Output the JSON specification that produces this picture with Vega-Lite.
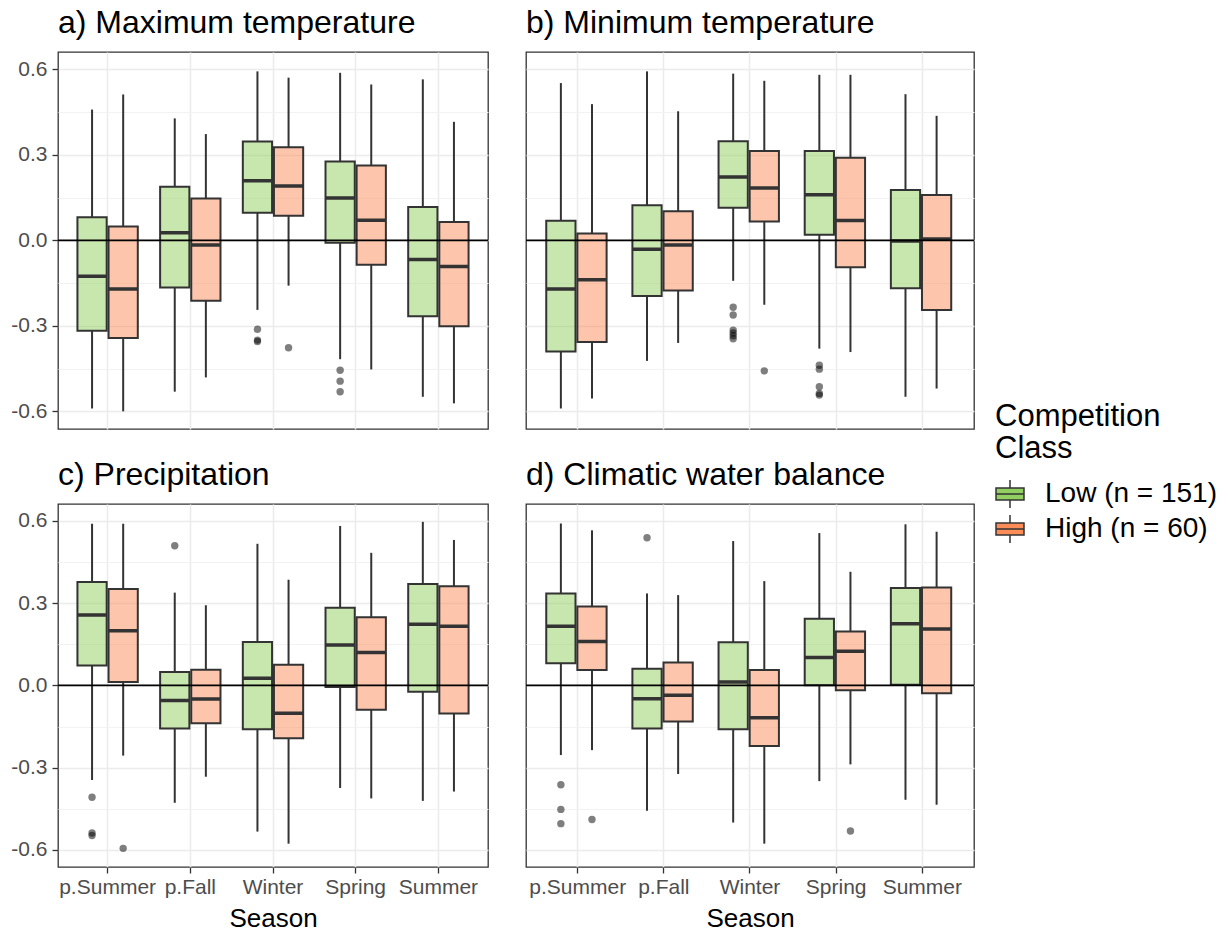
{
  "$schema": "https://vega.github.io/schema/vega-lite/v6.json",
  "padding": {"left": 10, "top": 6, "right": 5, "bottom": 0},
  "background": "white",
  "datasets": {
    "boxes": [
      {"p":"a","s":"p.Summer","c":"Low (n = 151)","lo":-0.59,"q1":-0.317,"md":-0.126,"q3":0.081,"hi":0.459},
      {"p":"a","s":"p.Summer","c":"High (n = 60)","lo":-0.60,"q1":-0.343,"md":-0.171,"q3":0.049,"hi":0.512},
      {"p":"a","s":"p.Fall","c":"Low (n = 151)","lo":-0.531,"q1":-0.165,"md":0.027,"q3":0.188,"hi":0.428},
      {"p":"a","s":"p.Fall","c":"High (n = 60)","lo":-0.481,"q1":-0.212,"md":-0.016,"q3":0.147,"hi":0.373},
      {"p":"a","s":"Winter","c":"Low (n = 151)","lo":-0.244,"q1":0.097,"md":0.209,"q3":0.347,"hi":0.593},
      {"p":"a","s":"Winter","c":"High (n = 60)","lo":-0.159,"q1":0.086,"md":0.191,"q3":0.327,"hi":0.571},
      {"p":"a","s":"Spring","c":"Low (n = 151)","lo":-0.417,"q1":-0.008,"md":0.149,"q3":0.277,"hi":0.588},
      {"p":"a","s":"Spring","c":"High (n = 60)","lo":-0.453,"q1":-0.086,"md":0.071,"q3":0.263,"hi":0.547},
      {"p":"a","s":"Summer","c":"Low (n = 151)","lo":-0.549,"q1":-0.266,"md":-0.067,"q3":0.117,"hi":0.565},
      {"p":"a","s":"Summer","c":"High (n = 60)","lo":-0.572,"q1":-0.301,"md":-0.092,"q3":0.064,"hi":0.416},
      {"p":"b","s":"p.Summer","c":"Low (n = 151)","lo":-0.59,"q1":-0.390,"md":-0.171,"q3":0.069,"hi":0.552},
      {"p":"b","s":"p.Summer","c":"High (n = 60)","lo":-0.555,"q1":-0.357,"md":-0.138,"q3":0.024,"hi":0.478},
      {"p":"b","s":"p.Fall","c":"Low (n = 151)","lo":-0.423,"q1":-0.195,"md":-0.031,"q3":0.123,"hi":0.593},
      {"p":"b","s":"p.Fall","c":"High (n = 60)","lo":-0.360,"q1":-0.176,"md":-0.016,"q3":0.102,"hi":0.453},
      {"p":"b","s":"Winter","c":"Low (n = 151)","lo":-0.142,"q1":0.114,"md":0.222,"q3":0.348,"hi":0.585},
      {"p":"b","s":"Winter","c":"High (n = 60)","lo":-0.226,"q1":0.066,"md":0.184,"q3":0.314,"hi":0.560},
      {"p":"b","s":"Spring","c":"Low (n = 151)","lo":-0.380,"q1":0.020,"md":0.160,"q3":0.314,"hi":0.581},
      {"p":"b","s":"Spring","c":"High (n = 60)","lo":-0.392,"q1":-0.094,"md":0.070,"q3":0.290,"hi":0.581},
      {"p":"b","s":"Summer","c":"Low (n = 151)","lo":-0.549,"q1":-0.168,"md":-0.002,"q3":0.177,"hi":0.513},
      {"p":"b","s":"Summer","c":"High (n = 60)","lo":-0.520,"q1":-0.244,"md":0.005,"q3":0.159,"hi":0.437},
      {"p":"c","s":"p.Summer","c":"Low (n = 151)","lo":-0.345,"q1":0.072,"md":0.256,"q3":0.377,"hi":0.589},
      {"p":"c","s":"p.Summer","c":"High (n = 60)","lo":-0.256,"q1":0.012,"md":0.199,"q3":0.351,"hi":0.589},
      {"p":"c","s":"p.Fall","c":"Low (n = 151)","lo":-0.428,"q1":-0.157,"md":-0.055,"q3":0.049,"hi":0.338},
      {"p":"c","s":"p.Fall","c":"High (n = 60)","lo":-0.333,"q1":-0.138,"md":-0.050,"q3":0.057,"hi":0.292},
      {"p":"c","s":"Winter","c":"Low (n = 151)","lo":-0.533,"q1":-0.160,"md":0.026,"q3":0.158,"hi":0.516},
      {"p":"c","s":"Winter","c":"High (n = 60)","lo":-0.577,"q1":-0.193,"md":-0.102,"q3":0.075,"hi":0.385},
      {"p":"c","s":"Spring","c":"Low (n = 151)","lo":-0.374,"q1":-0.006,"md":0.147,"q3":0.283,"hi":0.581},
      {"p":"c","s":"Spring","c":"High (n = 60)","lo":-0.412,"q1":-0.089,"md":0.120,"q3":0.248,"hi":0.483},
      {"p":"c","s":"Summer","c":"Low (n = 151)","lo":-0.421,"q1":-0.023,"md":0.223,"q3":0.369,"hi":0.596},
      {"p":"c","s":"Summer","c":"High (n = 60)","lo":-0.387,"q1":-0.103,"md":0.215,"q3":0.361,"hi":0.530},
      {"p":"d","s":"p.Summer","c":"Low (n = 151)","lo":-0.254,"q1":0.081,"md":0.215,"q3":0.335,"hi":0.590},
      {"p":"d","s":"p.Summer","c":"High (n = 60)","lo":-0.236,"q1":0.056,"md":0.160,"q3":0.287,"hi":0.565},
      {"p":"d","s":"p.Fall","c":"Low (n = 151)","lo":-0.457,"q1":-0.157,"md":-0.049,"q3":0.061,"hi":0.335},
      {"p":"d","s":"p.Fall","c":"High (n = 60)","lo":-0.323,"q1":-0.132,"md":-0.036,"q3":0.083,"hi":0.329},
      {"p":"d","s":"Winter","c":"Low (n = 151)","lo":-0.500,"q1":-0.160,"md":0.012,"q3":0.157,"hi":0.526},
      {"p":"d","s":"Winter","c":"High (n = 60)","lo":-0.577,"q1":-0.221,"md":-0.118,"q3":0.056,"hi":0.380},
      {"p":"d","s":"Spring","c":"Low (n = 151)","lo":-0.349,"q1":0.000,"md":0.102,"q3":0.243,"hi":0.555},
      {"p":"d","s":"Spring","c":"High (n = 60)","lo":-0.288,"q1":-0.018,"md":0.124,"q3":0.196,"hi":0.414},
      {"p":"d","s":"Summer","c":"Low (n = 151)","lo":-0.417,"q1":0.002,"md":0.225,"q3":0.355,"hi":0.587},
      {"p":"d","s":"Summer","c":"High (n = 60)","lo":-0.435,"q1":-0.029,"md":0.205,"q3":0.357,"hi":0.560}
    ],
    "outliers": [
      {"p":"a","s":"Winter","c":"Low (n = 151)","v":-0.312},
      {"p":"a","s":"Winter","c":"Low (n = 151)","v":-0.350},
      {"p":"a","s":"Winter","c":"Low (n = 151)","v":-0.355},
      {"p":"a","s":"Winter","c":"High (n = 60)","v":-0.377},
      {"p":"a","s":"Spring","c":"Low (n = 151)","v":-0.456},
      {"p":"a","s":"Spring","c":"Low (n = 151)","v":-0.494},
      {"p":"a","s":"Spring","c":"Low (n = 151)","v":-0.531},
      {"p":"b","s":"Winter","c":"Low (n = 151)","v":-0.235},
      {"p":"b","s":"Winter","c":"Low (n = 151)","v":-0.262},
      {"p":"b","s":"Winter","c":"Low (n = 151)","v":-0.315},
      {"p":"b","s":"Winter","c":"Low (n = 151)","v":-0.325},
      {"p":"b","s":"Winter","c":"Low (n = 151)","v":-0.335},
      {"p":"b","s":"Winter","c":"Low (n = 151)","v":-0.345},
      {"p":"b","s":"Winter","c":"High (n = 60)","v":-0.458},
      {"p":"b","s":"Spring","c":"Low (n = 151)","v":-0.438},
      {"p":"b","s":"Spring","c":"Low (n = 151)","v":-0.452},
      {"p":"b","s":"Spring","c":"Low (n = 151)","v":-0.514},
      {"p":"b","s":"Spring","c":"Low (n = 151)","v":-0.537},
      {"p":"b","s":"Spring","c":"Low (n = 151)","v":-0.543},
      {"p":"c","s":"p.Summer","c":"Low (n = 151)","v":-0.408},
      {"p":"c","s":"p.Summer","c":"Low (n = 151)","v":-0.538},
      {"p":"c","s":"p.Summer","c":"Low (n = 151)","v":-0.547},
      {"p":"c","s":"p.Summer","c":"High (n = 60)","v":-0.594},
      {"p":"c","s":"p.Fall","c":"Low (n = 151)","v":0.509},
      {"p":"d","s":"p.Summer","c":"Low (n = 151)","v":-0.362},
      {"p":"d","s":"p.Summer","c":"Low (n = 151)","v":-0.452},
      {"p":"d","s":"p.Summer","c":"Low (n = 151)","v":-0.504},
      {"p":"d","s":"p.Summer","c":"High (n = 60)","v":-0.489},
      {"p":"d","s":"p.Fall","c":"Low (n = 151)","v":0.538},
      {"p":"d","s":"Spring","c":"High (n = 60)","v":-0.531}
    ]
  },
  "spacing": 28,
  "vconcat": [
    {
      "spacing": 34,
      "hconcat": [
        {
          "width": 430, "height": 377,
          "title": {"text": "a) Maximum temperature"},
          "resolve": {"axis": {"y": "independent"}},
          "layer": [
            {
              "data": {"name": "boxes"},
              "transform": [{"filter": "datum.p == 'a'"}],
              "encoding": {
                "x": {"field": "s", "type": "nominal", "sort": ["p.Summer","p.Fall","Winter","Spring","Summer"], "scale": {"paddingInner": 0.27, "paddingOuter": 0.235}, "axis": {"title": null, "labels": false, "ticks": false, "grid": true, "bandPosition": 0.5}},
                "xOffset": {"field": "c", "type": "nominal", "sort": ["Low (n = 151)","High (n = 60)"], "scale": {"paddingInner": 0.06}}
              },
              "layer": [
                {"mark": {"type": "rule", "stroke": "#333333", "strokeWidth": 2},
                 "encoding": {"y": {"field": "lo", "type": "quantitative", "scale": {"domain": [-0.662, 0.661], "nice": false, "zero": false}, "axis": {"values": [-0.6,-0.3,0,0.3,0.6], "labelExpr": "datum.value < 0 ? '-' + format(-datum.value, '.1f') : format(datum.value, '.1f')", "title": null, "grid": true, "ticks": true, "labelPadding": 5}}, "y2": {"field": "q1"}}},
                {"mark": {"type": "rule", "stroke": "#333333", "strokeWidth": 2},
                 "encoding": {"y": {"field": "q3", "type": "quantitative", "title": null}, "y2": {"field": "hi"}}},
                {"mark": {"type": "bar", "fillOpacity": 0.5, "stroke": "#333333", "strokeWidth": 2},
                 "encoding": {"y": {"field": "q1", "type": "quantitative", "title": null}, "y2": {"field": "q3"},
                   "fill": {"field": "c", "type": "nominal", "title": ["Competition", "Class"], "scale": {"domain": ["Low (n = 151)","High (n = 60)"], "range": ["#91cf60","#fc8d59"]},
                     "legend": {"orient": "none", "legendX": 937, "legendY": 350, "symbolType": "M-1,-0.43H1V0.43H-1Z M-1,0H1 M0,-0.43V-1 M0,0.43V1", "symbolSize": 784, "labelFontSize": 28, "labelLimit": 400, "titleLimit": 400, "titleFontSize": 31, "titleLineHeight": 32, "labelOffset": 20, "rowPadding": 1, "titlePadding": 14, "labelFont": "Liberation Sans", "titleFont": "Liberation Sans", "titleFontWeight": "normal", "labelColor": "black", "titleColor": "black",
                       "encode": {"symbols": {"update": {"fillOpacity": {"value": 1}, "opacity": {"value": 1}, "stroke": {"value": "#333333"}, "strokeWidth": {"value": 1.6}}}}}}}},
                {"mark": {"type": "bar", "fill": "#333333", "stroke": "#333333", "strokeWidth": 3.5},
                 "encoding": {"y": {"field": "md", "type": "quantitative", "title": null}, "y2": {"field": "md"}}},
                {"data": {"name": "outliers"}, "transform": [{"filter": "datum.p == 'a'"}],
                 "mark": {"type": "point", "filled": true, "fill": "black", "opacity": 0.5, "size": 55, "strokeWidth": 0},
                 "encoding": {"y": {"field": "v", "type": "quantitative", "title": null}}}
              ]
            },
            {"data": {"values": [{}]}, "mark": {"type": "rule", "stroke": "black", "strokeWidth": 1.8},
             "encoding": {"y": {"datum": 0, "type": "quantitative", "axis": {"orient": "left", "values": [-0.45,-0.15,0.15,0.45], "labels": false, "ticks": false, "grid": true, "gridColor": "#F2F2F2", "gridWidth": 1, "title": null}}}}
          ]
        },
        {
          "width": 448, "height": 377,
          "title": {"text": "b) Minimum temperature"},
          "resolve": {"axis": {"y": "independent"}},
          "layer": [
            {
              "data": {"name": "boxes"},
              "transform": [{"filter": "datum.p == 'b'"}],
              "encoding": {
                "x": {"field": "s", "type": "nominal", "sort": ["p.Summer","p.Fall","Winter","Spring","Summer"], "scale": {"paddingInner": 0.27, "paddingOuter": 0.235}, "axis": {"title": null, "labels": false, "ticks": false, "grid": true, "bandPosition": 0.5}},
                "xOffset": {"field": "c", "type": "nominal", "sort": ["Low (n = 151)","High (n = 60)"], "scale": {"paddingInner": 0.06}}
              },
              "layer": [
                {"mark": {"type": "rule", "stroke": "#333333", "strokeWidth": 2},
                 "encoding": {"y": {"field": "lo", "type": "quantitative", "scale": {"domain": [-0.662, 0.661], "nice": false, "zero": false}, "axis": {"values": [-0.6,-0.3,0,0.3,0.6], "title": null, "grid": true, "ticks": false, "labels": false}}, "y2": {"field": "q1"}}},
                {"mark": {"type": "rule", "stroke": "#333333", "strokeWidth": 2},
                 "encoding": {"y": {"field": "q3", "type": "quantitative", "title": null}, "y2": {"field": "hi"}}},
                {"mark": {"type": "bar", "fillOpacity": 0.5, "stroke": "#333333", "strokeWidth": 2},
                 "encoding": {"y": {"field": "q1", "type": "quantitative", "title": null}, "y2": {"field": "q3"},
                   "fill": {"field": "c", "type": "nominal", "title": ["Competition", "Class"], "scale": {"domain": ["Low (n = 151)","High (n = 60)"], "range": ["#91cf60","#fc8d59"]}}}},
                {"mark": {"type": "bar", "fill": "#333333", "stroke": "#333333", "strokeWidth": 3.5},
                 "encoding": {"y": {"field": "md", "type": "quantitative", "title": null}, "y2": {"field": "md"}}},
                {"data": {"name": "outliers"}, "transform": [{"filter": "datum.p == 'b'"}],
                 "mark": {"type": "point", "filled": true, "fill": "black", "opacity": 0.5, "size": 55, "strokeWidth": 0},
                 "encoding": {"y": {"field": "v", "type": "quantitative", "title": null}}}
              ]
            },
            {"data": {"values": [{}]}, "mark": {"type": "rule", "stroke": "black", "strokeWidth": 1.8},
             "encoding": {"y": {"datum": 0, "type": "quantitative", "axis": {"orient": "left", "values": [-0.45,-0.15,0.15,0.45], "labels": false, "ticks": false, "grid": true, "gridColor": "#F2F2F2", "gridWidth": 1, "title": null}}}}
          ]
        }
      ]
    },
    {
      "spacing": 34,
      "hconcat": [
        {
          "width": 430, "height": 363,
          "title": {"text": "c) Precipitation"},
          "resolve": {"axis": {"y": "independent"}},
          "layer": [
            {
              "data": {"name": "boxes"},
              "transform": [{"filter": "datum.p == 'c'"}],
              "encoding": {
                "x": {"field": "s", "type": "nominal", "sort": ["p.Summer","p.Fall","Winter","Spring","Summer"], "scale": {"paddingInner": 0.27, "paddingOuter": 0.235}, "axis": {"title": "Season", "labelAngle": 0, "grid": true, "bandPosition": 0.5, "labelPadding": 3, "titlePadding": 8}},
                "xOffset": {"field": "c", "type": "nominal", "sort": ["Low (n = 151)","High (n = 60)"], "scale": {"paddingInner": 0.06}}
              },
              "layer": [
                {"mark": {"type": "rule", "stroke": "#333333", "strokeWidth": 2},
                 "encoding": {"y": {"field": "lo", "type": "quantitative", "scale": {"domain": [-0.662, 0.661], "nice": false, "zero": false}, "axis": {"values": [-0.6,-0.3,0,0.3,0.6], "labelExpr": "datum.value < 0 ? '-' + format(-datum.value, '.1f') : format(datum.value, '.1f')", "title": null, "grid": true, "ticks": true, "labelPadding": 5}}, "y2": {"field": "q1"}}},
                {"mark": {"type": "rule", "stroke": "#333333", "strokeWidth": 2},
                 "encoding": {"y": {"field": "q3", "type": "quantitative", "title": null}, "y2": {"field": "hi"}}},
                {"mark": {"type": "bar", "fillOpacity": 0.5, "stroke": "#333333", "strokeWidth": 2},
                 "encoding": {"y": {"field": "q1", "type": "quantitative", "title": null}, "y2": {"field": "q3"},
                   "fill": {"field": "c", "type": "nominal", "title": ["Competition", "Class"], "scale": {"domain": ["Low (n = 151)","High (n = 60)"], "range": ["#91cf60","#fc8d59"]}}}},
                {"mark": {"type": "bar", "fill": "#333333", "stroke": "#333333", "strokeWidth": 3.5},
                 "encoding": {"y": {"field": "md", "type": "quantitative", "title": null}, "y2": {"field": "md"}}},
                {"data": {"name": "outliers"}, "transform": [{"filter": "datum.p == 'c'"}],
                 "mark": {"type": "point", "filled": true, "fill": "black", "opacity": 0.5, "size": 55, "strokeWidth": 0},
                 "encoding": {"y": {"field": "v", "type": "quantitative", "title": null}}}
              ]
            },
            {"data": {"values": [{}]}, "mark": {"type": "rule", "stroke": "black", "strokeWidth": 1.8},
             "encoding": {"y": {"datum": 0, "type": "quantitative", "axis": {"orient": "left", "values": [-0.45,-0.15,0.15,0.45], "labels": false, "ticks": false, "grid": true, "gridColor": "#F2F2F2", "gridWidth": 1, "title": null}}}}
          ]
        },
        {
          "width": 448, "height": 363,
          "title": {"text": "d) Climatic water balance"},
          "resolve": {"axis": {"y": "independent"}},
          "layer": [
            {
              "data": {"name": "boxes"},
              "transform": [{"filter": "datum.p == 'd'"}],
              "encoding": {
                "x": {"field": "s", "type": "nominal", "sort": ["p.Summer","p.Fall","Winter","Spring","Summer"], "scale": {"paddingInner": 0.27, "paddingOuter": 0.235}, "axis": {"title": "Season", "labelAngle": 0, "grid": true, "bandPosition": 0.5, "labelPadding": 3, "titlePadding": 8}},
                "xOffset": {"field": "c", "type": "nominal", "sort": ["Low (n = 151)","High (n = 60)"], "scale": {"paddingInner": 0.06}}
              },
              "layer": [
                {"mark": {"type": "rule", "stroke": "#333333", "strokeWidth": 2},
                 "encoding": {"y": {"field": "lo", "type": "quantitative", "scale": {"domain": [-0.662, 0.661], "nice": false, "zero": false}, "axis": {"values": [-0.6,-0.3,0,0.3,0.6], "title": null, "grid": true, "ticks": false, "labels": false}}, "y2": {"field": "q1"}}},
                {"mark": {"type": "rule", "stroke": "#333333", "strokeWidth": 2},
                 "encoding": {"y": {"field": "q3", "type": "quantitative", "title": null}, "y2": {"field": "hi"}}},
                {"mark": {"type": "bar", "fillOpacity": 0.5, "stroke": "#333333", "strokeWidth": 2},
                 "encoding": {"y": {"field": "q1", "type": "quantitative", "title": null}, "y2": {"field": "q3"},
                   "fill": {"field": "c", "type": "nominal", "title": ["Competition", "Class"], "scale": {"domain": ["Low (n = 151)","High (n = 60)"], "range": ["#91cf60","#fc8d59"]}}}},
                {"mark": {"type": "bar", "fill": "#333333", "stroke": "#333333", "strokeWidth": 3.5},
                 "encoding": {"y": {"field": "md", "type": "quantitative", "title": null}, "y2": {"field": "md"}}},
                {"data": {"name": "outliers"}, "transform": [{"filter": "datum.p == 'd'"}],
                 "mark": {"type": "point", "filled": true, "fill": "black", "opacity": 0.5, "size": 55, "strokeWidth": 0},
                 "encoding": {"y": {"field": "v", "type": "quantitative", "title": null}}}
              ]
            },
            {"data": {"values": [{}]}, "mark": {"type": "rule", "stroke": "black", "strokeWidth": 1.8},
             "encoding": {"y": {"datum": 0, "type": "quantitative", "axis": {"orient": "left", "values": [-0.45,-0.15,0.15,0.45], "labels": false, "ticks": false, "grid": true, "gridColor": "#F2F2F2", "gridWidth": 1, "title": null}}}}
          ]
        }
      ]
    }
  ],
  "config": {
    "font": "Liberation Sans",
    "view": {"stroke": "#333333", "strokeWidth": 1.3},
    "axis": {"domain": false, "gridColor": "#EBEBEB", "gridWidth": 1.5, "tickColor": "#333333", "tickWidth": 1.3, "tickSize": 6, "labelColor": "#4D4D4D", "labelFontSize": 21, "labelFont": "Liberation Sans", "titleFont": "Liberation Sans", "titleFontSize": 26, "titleFontWeight": "normal", "titleColor": "black"},
    "title": {"anchor": "start", "frame": "group", "fontSize": 32, "fontWeight": "normal", "color": "black", "font": "Liberation Sans", "offset": 12}
  }
}
